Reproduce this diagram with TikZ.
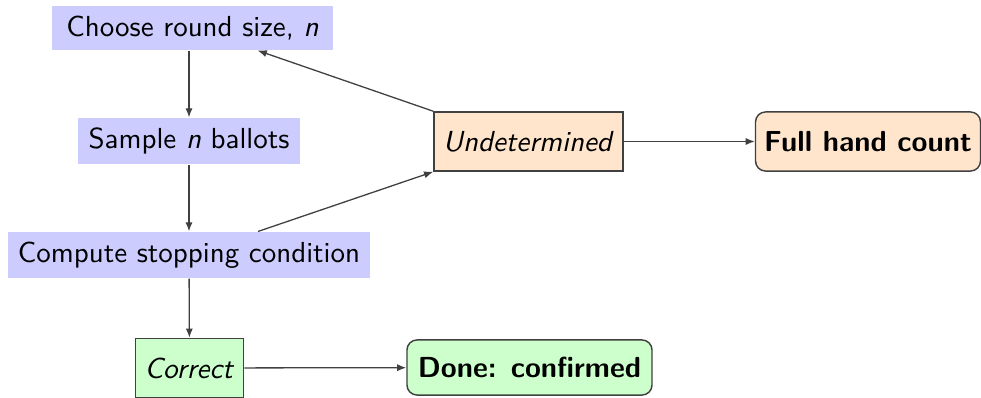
\documentclass[tikz,border=0pt]{standalone}
\usetikzlibrary{arrows.meta}
\definecolor{bluebox}{RGB}{204,204,255}
\definecolor{orangebox}{RGB}{255,229,204}
\definecolor{greenbox}{RGB}{204,255,204}
\begin{document}
\begin{tikzpicture}[x=0.3485pt,y=-0.3485pt,
  font=\sffamily\fontsize{10.1}{12}\selectfont,
  stepbox/.style={fill=bluebox,inner sep=0pt},
  outcome/.style={draw=black!75,line width=0.5pt,inner sep=0pt},
  finalbox/.style={draw=black!75,line width=0.5pt,inner sep=0pt,rounded corners=3.5pt,font=\sffamily\bfseries\fontsize{10.1}{12}\selectfont},
  conn/.style={draw=black!75,line width=0.45pt,-{Latex[length=3.2pt,width=2.5pt]}}]
\useasboundingbox (0,0) rectangle (981,398);
\node[stepbox,minimum width=98pt,minimum height=15.3pt] (choose) at (192.5,28) {Choose round size, \textit{n}};
\node[stepbox,minimum width=77.4pt,minimum height=16pt] (sample) at (189,141) {Sample \textit{n} ballots};
\node[stepbox,minimum width=126.5pt,minimum height=16pt] (compute) at (189,255) {Compute stopping condition};
\node[outcome,fill=orangebox,minimum width=65.9pt,minimum height=20.6pt] (undet) at (528.5,141.5) {\textit{Undetermined}};
\node[finalbox,fill=orangebox,minimum width=78.4pt,minimum height=20.6pt] (full) at (868,141.5) {Full hand count};
\node[outcome,fill=greenbox,minimum width=37.8pt,minimum height=20.6pt] (correct) at (189.5,368) {\textit{Correct}};
\node[finalbox,fill=greenbox,minimum width=85.4pt,minimum height=19.2pt] (done) at (529.5,367.5) {Done: confirmed};
\draw[conn] (choose.south -| sample.north) -- (sample);
\draw[conn] (sample) -- (compute);
\draw[conn] (compute) -- (correct);
\draw[conn] (correct) -- (done);
\draw[conn] (compute) -- (undet.south west);
\draw[conn] (undet.north west) -- (choose);
\draw[conn] (undet) -- (full);
\end{tikzpicture}
\end{document}
